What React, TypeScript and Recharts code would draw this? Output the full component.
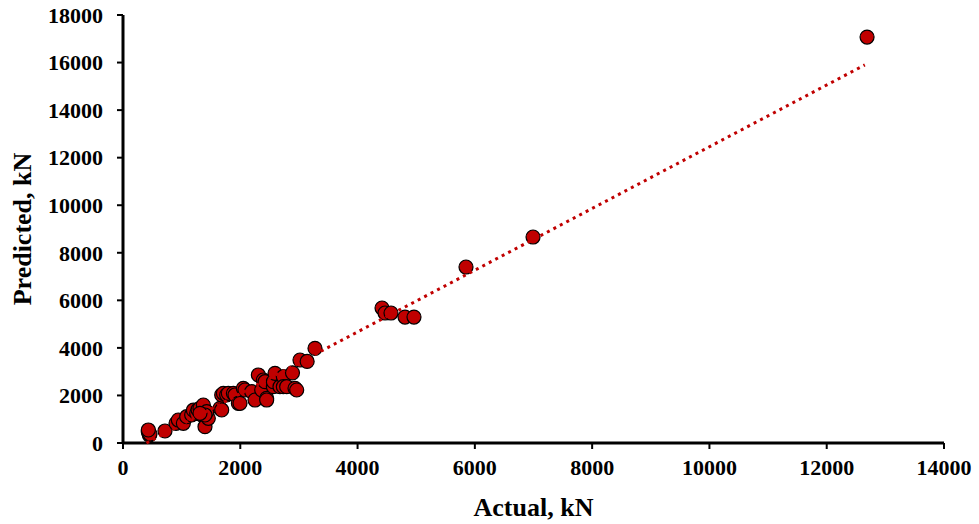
import React from "react";
import { ScatterChart, Scatter, XAxis, YAxis, Label } from "recharts";

// values (kN)
const actual = [
  431, 449, 460, 432, 716, 904, 943, 1029, 1086, 1171, 1200, 1256, 1280, 1313,
  1370, 1342, 1398, 1455, 1427, 1398, 1313, 1654, 1683, 1712, 1768, 1796, 1882,
  1910, 1683, 1967, 1995, 2052, 2080, 2194, 2251, 2365, 2308, 2393, 2422, 2450,
  2450, 2564, 2564, 2592, 2677, 2734, 2734, 2791, 2890, 2933, 2962, 3018, 3140,
  3274, 4417, 4468, 4570, 4809, 4962, 5849, 6992, 12688,
];
const predicted = [
  475, 336, 378, 547, 505, 827, 967, 827, 1107, 1178, 1380, 1248, 1400, 1458,
  1598, 1178, 686, 1037, 1318, 1178, 1248, 1458, 2019, 2089, 2019, 2089, 2089,
  2019, 1388, 1668, 1668, 2299, 2229, 2159, 1808, 2229, 2860, 2649, 2579, 1878,
  1808, 2368, 2579, 2930, 2368, 2790, 2368, 2368, 2950, 2299, 2229, 3490, 3430,
  3980, 5677, 5467, 5467, 5298, 5298, 7401, 8663, 17073,
];

// linear trendline end points as drawn in the reference
const trendActual = [400, 12650];
const trendPredicted = [0, 15900];

const xTicks = [0, 2000, 4000, 6000, 8000, 10000, 12000, 14000];
const yTicks = [0, 2000, 4000, 6000, 8000, 10000, 12000, 14000, 16000, 18000];

const points = actual.map((x, i) => ({ x, y: predicted[i] }));
const trend = trendActual.map((x, i) => ({ x, y: trendPredicted[i] }));

const font = "'Liberation Serif', 'Times New Roman', serif";
const tickStyle = { fontFamily: font, fontWeight: 700, fontSize: 22, fill: "#000" };

const Dot = (props: any) => {
  const { cx, cy } = props;
  if (cx == null || cy == null) return <g />;
  return <circle cx={cx} cy={cy} r={7} fill="#C00000" stroke="#000" strokeWidth={1.2} />;
};

const App: React.FC = () => {
  return (
    <div style={{ position: "absolute", left: 0, top: 0, background: "#fff" }}>
      <ScatterChart
        width={979}
        height={524}
        margin={{ top: 15, right: 35, bottom: 0, left: 0 }}
      >
        <XAxis
          type="number"
          dataKey="x"
          domain={[0, 14000]}
          ticks={xTicks}
          interval={0}
          height={81}
          tick={tickStyle}
          tickSize={6}
          tickMargin={10}
          axisLine={{ stroke: "#000", strokeWidth: 3 }}
          tickLine={{ stroke: "#000", strokeWidth: 2 }}
        >
          <Label
            value="Actual, kN"
            position="insideBottom"
            offset={8}
            style={{ fontFamily: font, fontWeight: 700, fontSize: 26, fill: "#000" }}
          />
        </XAxis>
        <YAxis
          type="number"
          dataKey="y"
          domain={[0, 18000]}
          ticks={yTicks}
          interval={0}
          width={123}
          tick={tickStyle}
          tickSize={6}
          tickMargin={14}
          axisLine={{ stroke: "#000", strokeWidth: 3 }}
          tickLine={{ stroke: "#000", strokeWidth: 2 }}
        >
          <Label
            value="Predicted, kN"
            angle={-90}
            position="insideLeft"
            offset={22}
            style={{
              fontFamily: font,
              fontWeight: 700,
              fontSize: 26,
              fill: "#000",
              textAnchor: "middle",
            }}
          />
        </YAxis>
        <Scatter data={points} shape={<Dot />} isAnimationActive={false} />
        <Scatter
          data={trend}
          line={{ stroke: "#C00000", strokeWidth: 3, strokeDasharray: "3 4.3" }}
          lineType="joint"
          shape={() => <g />}
          isAnimationActive={false}
        />
      </ScatterChart>
    </div>
  );
};

export default App;
